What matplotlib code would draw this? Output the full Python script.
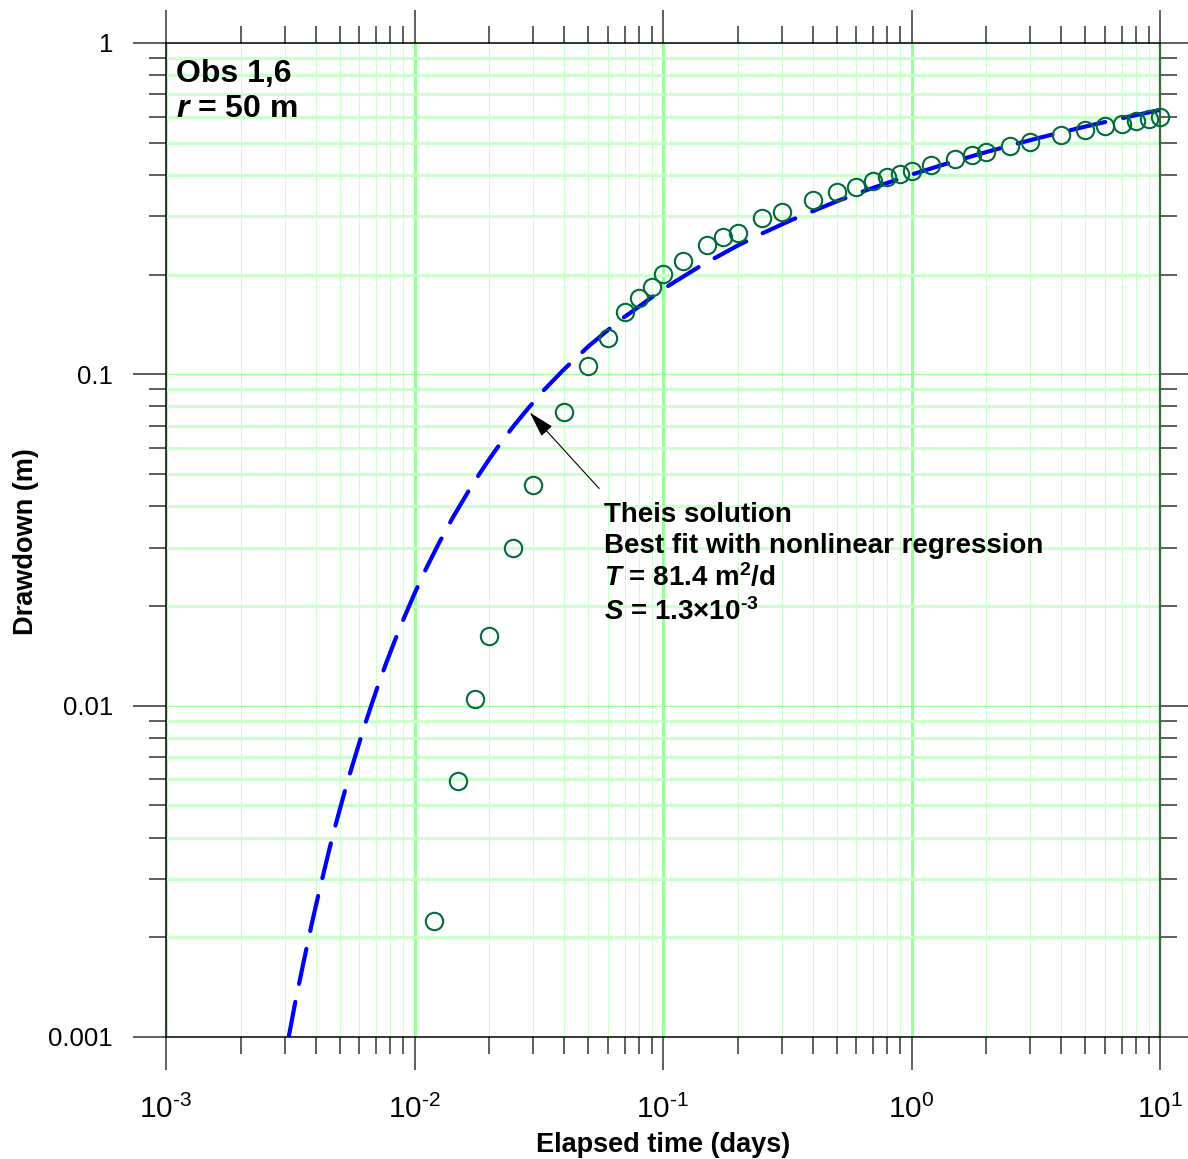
import matplotlib
matplotlib.use('Agg')
import matplotlib.pyplot as plt
import numpy as np
from matplotlib.ticker import LogLocator, FixedLocator, FixedFormatter, NullFormatter

plt.rcParams['font.family'] = ['Liberation Sans', 'DejaVu Sans']
plt.rcParams['mathtext.fontset'] = 'custom'
plt.rcParams['mathtext.rm'] = 'Liberation Sans'
plt.rcParams['mathtext.it'] = 'Liberation Sans:italic'
plt.rcParams['mathtext.bf'] = 'Liberation Sans:bold'
plt.rcParams['mathtext.bfit'] = 'Liberation Sans:italic:bold'

# observed drawdown, Obs 1,6 (r = 50 m)
t_obs = [0.012, 0.015, 0.0175, 0.02, 0.025, 0.03, 0.04, 0.05, 0.06, 0.07,
         0.08, 0.09, 0.1, 0.12, 0.15, 0.175, 0.2, 0.25, 0.3, 0.4,
         0.5, 0.6, 0.7, 0.8, 0.9, 1.0, 1.2, 1.5, 1.75, 2.0,
         2.5, 3.0, 4.0, 5.0, 6.0, 7.0, 8.0, 9.0, 10.0]
s_obs = [0.00224, 0.00593, 0.0105, 0.0162, 0.0300, 0.0465, 0.0768, 0.1057, 0.1285, 0.154,
         0.170, 0.183, 0.2005, 0.2195, 0.2454, 0.2594, 0.2667, 0.296, 0.3086, 0.3355,
         0.355, 0.367, 0.383, 0.394, 0.402, 0.410, 0.428, 0.4465, 0.459, 0.469,
         0.489, 0.502, 0.527, 0.546, 0.561, 0.569, 0.581, 0.589, 0.598]

# Theis curve (best fit)
t_fit = [0.00285, 0.003125, 0.00333, 0.00357, 0.003846, 0.004, 0.004167, 0.004545,
         0.00476, 0.005, 0.00526, 0.00556, 0.00625, 0.00667, 0.00714, 0.00769,
         0.00833, 0.00909, 0.01, 0.0111, 0.0125, 0.0143, 0.0167, 0.0182,
         0.02, 0.0222, 0.025, 0.0286, 0.0333, 0.04, 0.05, 0.0667,
         0.0769, 0.1, 0.143, 0.2, 0.25, 0.333, 0.5, 0.667,
         1.0, 1.333, 2.0, 2.857, 3.33, 5.0, 6.67, 10.0]
s_fit = [0.00069, 0.00101, 0.00130, 0.00167, 0.00217, 0.00247, 0.00282, 0.00369,
         0.00423, 0.00485, 0.00557, 0.00642, 0.00856, 0.00992, 0.01153, 0.01344,
         0.0157, 0.01845, 0.0218, 0.0258, 0.0308, 0.0371, 0.0451, 0.0499,
         0.0555, 0.0620, 0.0697, 0.0788, 0.0899, 0.1036, 0.1213, 0.1453,
         0.1567, 0.1808, 0.2134, 0.2448, 0.266, 0.2935, 0.3328, 0.3608,
         0.4006, 0.4287, 0.4688, 0.5041, 0.5193, 0.5594, 0.588, 0.628]

x_ticks = [0.001, 0.01, 0.1, 1, 10]
x_ticklabels = [r'10$^{\text{-3}}$', r'10$^{\text{-2}}$', r'10$^{\text{-1}}$',
                r'10$^{\text{0}}$', r'10$^{\text{1}}$']
y_ticks = [0.001, 0.01, 0.1, 1]
y_ticklabels = ['0.001', '0.01', '0.1', '1']

arrow_tip = (0.0286, 0.0778)
arrow_tail = (0.0563, 0.0446)

W, H = 1188, 1159
fig = plt.figure(figsize=(W / 100, H / 100), dpi=100)
ax = fig.add_axes([166 / W, 1 - 1037 / H, (1160 - 166) / W, (1037 - 43) / H])

ax.set_xscale('log')
ax.set_yscale('log')
ax.set_xlim(1e-3, 10)
ax.set_ylim(1e-3, 1)

ax.xaxis.set_major_locator(FixedLocator(x_ticks))
ax.xaxis.set_major_formatter(FixedFormatter(x_ticklabels))
ax.xaxis.set_minor_locator(LogLocator(base=10, subs=np.arange(2, 10), numticks=40))
ax.xaxis.set_minor_formatter(NullFormatter())
ax.yaxis.set_major_locator(FixedLocator(y_ticks))
ax.yaxis.set_major_formatter(FixedFormatter(y_ticklabels))
ax.yaxis.set_minor_locator(LogLocator(base=10, subs=np.arange(2, 10), numticks=40))
ax.yaxis.set_minor_formatter(NullFormatter())

ax.set_axisbelow(True)
ax.grid(which='major', axis='x', color='#99ff99', lw=2.2)
ax.grid(which='minor', axis='x', color='#ccffcc', lw=0.8)
ax.grid(which='major', axis='y', color='#99ff99', lw=0.8)
ax.grid(which='minor', axis='y', color='#ccffcc', lw=2.2)

ax.tick_params(which='both', direction='out', top=True, right=True,
               labeltop=False, labelright=False, color='#333333', width=1.1)
ax.tick_params(which='major', length=23.8)
ax.tick_params(which='minor', length=12.2)
ax.tick_params(axis='x', which='major', labelsize=21.5, pad=18)
ax.tick_params(axis='y', which='major', labelsize=18.5, pad=14.4)

for side in ['left', 'top', 'bottom']:
    ax.spines[side].set_linewidth(1.1)
    ax.spines[side].set_color('black')
ax.spines['right'].set_linewidth(1.6)
ax.spines['right'].set_color('#2f6b2f')

ax.plot(t_fit, s_fit, color='#0000ff', lw=3, ls=(0, (8.6, 4.4)),
        dash_capstyle='round', zorder=3)
ax.plot(t_obs, s_obs, 'o', mfc='none', mec='#006b3c', ms=12.5, mew=1.5,
        zorder=4, clip_on=False)

ax.annotate('', xy=arrow_tip, xytext=arrow_tail,
            arrowprops=dict(arrowstyle='-|>,head_length=0.9,head_width=0.25',
                            color='black', lw=0.8, mutation_scale=18), zorder=5)

tx = (604 - 166) / 994
lines = ['Theis solution',
         'Best fit with nonlinear regression',
         r'$\mathbfit{T}$ = 81.4 m$^{\mathbf{2}}$/d',
         '$\\mathbfit{S}$ = 1.3×10$^{\\mathbf{\u20103}}$']
base_px = [522, 553, 586, 620]
for txt, b in zip(lines, base_px):
    ax.text(tx, (1037 - b) / 994, txt, transform=ax.transAxes, fontsize=20,
            fontweight='bold', ha='left', va='baseline', zorder=6)

ax.text((176 - 166) / 994, (1037 - 82) / 994, 'Obs 1,6', transform=ax.transAxes,
        fontsize=23, fontweight='bold', ha='left', va='baseline')
ax.text((176 - 166) / 994, (1037 - 117) / 994, r'$\mathbfit{r}$ = 50 m',
        transform=ax.transAxes, fontsize=23, fontweight='bold', ha='left', va='baseline')

fig.text(663 / W, 1 - 1152 / H, 'Elapsed time (days)', fontsize=19.5,
         fontweight='bold', ha='center', va='baseline')
fig.text(26 / W, 1 - 542 / H, 'Drawdown (m)', fontsize=19.5, fontweight='bold',
         rotation=90, ha='center', va='center')

fig.savefig('out.png', dpi=100)
